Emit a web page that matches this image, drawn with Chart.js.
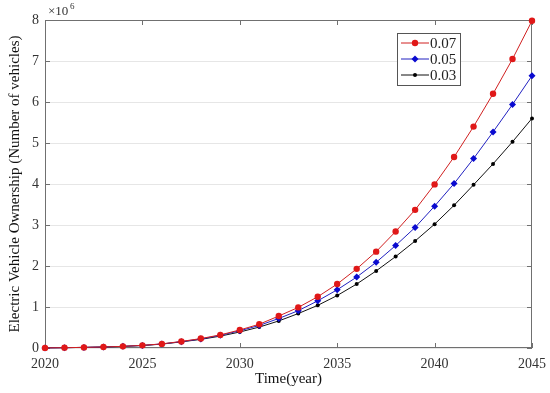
<!DOCTYPE html>
<html>
<head>
<meta charset="utf-8">
<script src="https://cdn.jsdelivr.net/npm/chart.js@4/dist/chart.umd.min.js"></script>
<style>
  html, body { margin: 0; padding: 0; background: #fff; }
  #wrap { width: 550px; height: 393px; }
</style>
</head>
<body>
<div id="wrap"><canvas id="c" width="550" height="393"></canvas></div>
<script>
// values in units of 10^6 vehicles
const years = [2020, 2021, 2022, 2023, 2024, 2025, 2026, 2027, 2028, 2029, 2030, 2031, 2032,
               2033, 2034, 2035, 2036, 2037, 2038, 2039, 2040, 2041, 2042, 2043, 2044, 2045];
const rate007 = [0.003, 0.008, 0.015, 0.025, 0.04, 0.065, 0.10, 0.16, 0.23, 0.32, 0.44, 0.58, 0.78,
                 0.99, 1.25, 1.56, 1.93, 2.35, 2.84, 3.37, 3.99, 4.66, 5.40, 6.20, 7.05, 7.98];
const rate005 = [0.003, 0.008, 0.015, 0.025, 0.04, 0.063, 0.098, 0.155, 0.22, 0.31, 0.42, 0.55, 0.72,
                 0.91, 1.15, 1.42, 1.73, 2.09, 2.50, 2.94, 3.46, 4.01, 4.62, 5.27, 5.94, 6.64];
const rate003 = [0.003, 0.008, 0.015, 0.025, 0.04, 0.06, 0.095, 0.15, 0.21, 0.29, 0.39, 0.51, 0.66,
                 0.84, 1.04, 1.28, 1.56, 1.88, 2.23, 2.61, 3.02, 3.48, 3.98, 4.49, 5.03, 5.60];
const seriesNames = ['0.07', '0.05', '0.03'];
const xTicks = [2020, 2025, 2030, 2035, 2040, 2045];

const serif = '"Liberation Serif", "DejaVu Serif", serif';

const toPts = (vals) => vals.map((v, i) => ({ x: years[i], y: v }));

// box, inward ticks, exponent label and legend, MATLAB style
const matlabBox = {
    id: 'matlabBox',
    beforeDatasetsDraw(chart) {
        const ctx = chart.ctx;
        const a = chart.chartArea;
        const xs = chart.scales.x, ys = chart.scales.y;
        ctx.save();
        ctx.strokeStyle = '#707070';
        ctx.lineWidth = 1;
        ctx.strokeRect(a.left + 0.5, a.top + 0.5, a.right - a.left - 1, a.bottom - a.top - 1);
        ctx.beginPath();
        xTicks.forEach(t => {
            const px = Math.round(xs.getPixelForValue(t)) + 0.5;
            ctx.moveTo(px, a.bottom); ctx.lineTo(px, a.bottom - 5);
            ctx.moveTo(px, a.top); ctx.lineTo(px, a.top + 5);
        });
        for (let v = 0; v <= 8; v++) {
            const py = Math.round(ys.getPixelForValue(v)) + 0.5;
            ctx.moveTo(a.left, py); ctx.lineTo(a.left + 5, py);
            ctx.moveTo(a.right, py); ctx.lineTo(a.right - 5, py);
        }
        ctx.stroke();

        // exponent
        ctx.fillStyle = '#333';
        ctx.font = '13px ' + serif;
        ctx.textBaseline = 'alphabetic';
        ctx.textAlign = 'left';
        ctx.fillText('\u00d710', a.left + 3, a.top - 5);
        ctx.font = '9px ' + serif;
        ctx.fillText('6', a.left + 25, a.top - 11);
        ctx.restore();
    },
    afterDraw(chart) {
        const ctx = chart.ctx;
        ctx.save();
        // legend
        const lx = 397, ly = 33, lw = 63, lh = 52;
        ctx.fillStyle = '#fff';
        ctx.fillRect(lx, ly, lw, lh);
        ctx.strokeStyle = '#555';
        ctx.lineWidth = 1;
        ctx.strokeRect(lx + 0.5, ly + 0.5, lw, lh);
        chart.data.datasets.forEach((ds, i) => {
            const y = ly + 10 + i * 16;
            ctx.strokeStyle = ds.borderColor;
            ctx.beginPath();
            ctx.moveTo(lx + 4, y); ctx.lineTo(lx + 32, y);
            ctx.stroke();
            ctx.fillStyle = ds.pointBackgroundColor;
            ctx.beginPath();
            if (ds.pointStyle === 'rectRot') {
                const r = ds.pointRadius;
                ctx.moveTo(lx + 18, y - r); ctx.lineTo(lx + 18 + r, y);
                ctx.lineTo(lx + 18, y + r); ctx.lineTo(lx + 18 - r, y);
                ctx.closePath();
            } else {
                ctx.arc(lx + 18, y, ds.pointRadius, 0, Math.PI * 2);
            }
            ctx.fill();
            ctx.fillStyle = '#222';
            ctx.font = '15px ' + serif;
            ctx.textBaseline = 'middle';
            ctx.fillText(ds.label, lx + 33, y + 1);
        });
        ctx.restore();
    }
};

new Chart(document.getElementById('c'), {
    type: 'line',
    data: {
        datasets: [
            { label: seriesNames[0], data: toPts(rate007), borderColor: '#d02020', backgroundColor: '#d02020',
              pointBackgroundColor: '#e01818', pointBorderColor: '#e01818', pointStyle: 'circle', pointRadius: 3.2 },
            { label: seriesNames[1], data: toPts(rate005), borderColor: '#2020c0', backgroundColor: '#2020c0',
              pointBackgroundColor: '#0a0ad0', pointBorderColor: '#0a0ad0', pointStyle: 'rectRot', pointRadius: 3.5 },
            { label: seriesNames[2], data: toPts(rate003), borderColor: '#111', backgroundColor: '#111',
              pointBackgroundColor: '#000', pointBorderColor: '#000', pointStyle: 'circle', pointRadius: 2 }
        ]
    },
    options: {
        responsive: false,
        animation: false,
        layout: { padding: { top: 20, right: 18, left: 0, bottom: 0 } },
        elements: { line: { borderWidth: 1, tension: 0 }, point: { borderWidth: 0 } },
        datasets: { line: { clip: false } },
        plugins: { legend: { display: false }, tooltip: { enabled: false } },
        scales: {
            x: {
                type: 'linear', min: 2020, max: 2045,
                afterBuildTicks: (s) => { s.ticks = xTicks.map(v => ({ value: v })); },
                grid: { display: false, drawTicks: false },
                border: { display: false },
                ticks: { color: '#333', padding: 8, font: { family: serif, size: 14 }, maxRotation: 0,
                         callback: (v) => String(v) },
                title: { display: true, text: 'Time(year)', color: '#111', padding: { top: 0, bottom: 5 },
                         font: { family: serif, size: 15 } },
                afterFit: (s) => { s.height = 45; s.paddingLeft = 0; s.paddingRight = 0; }
            },
            y: {
                min: 0, max: 8,
                ticks: { stepSize: 1, color: '#333', padding: 6, font: { family: serif, size: 14 } },
                grid: { color: '#e6e6e6', drawTicks: false },
                border: { display: false },
                title: { display: true, text: 'Electric Vehicle Ownership (Number of vehicles)', color: '#111',
                         padding: { top: 6, bottom: 0 }, font: { family: serif, size: 15 } },
                afterFit: (s) => { s.width = 45; s.paddingTop = 0; s.paddingBottom = 0; }
            }
        }
    },
    plugins: [matlabBox]
});
</script>
</body>
</html>
